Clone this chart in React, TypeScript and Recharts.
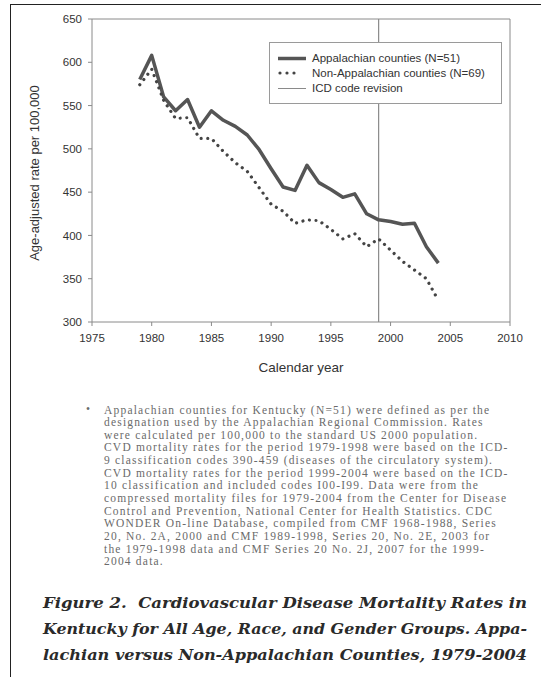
import React from 'react';
import { LineChart, Line, XAxis, YAxis, ReferenceLine, Legend } from 'recharts';

const years = [
  1979, 1980, 1981, 1982, 1983, 1984, 1985, 1986, 1987, 1988, 1989, 1990, 1991,
  1992, 1993, 1994, 1995, 1996, 1997, 1998, 1999, 2000, 2001, 2002, 2003, 2004,
];
const appalachian = [
  580, 608, 560, 544, 557, 525, 544, 533, 526, 516, 499, 477, 456,
  452, 481, 461, 453, 444, 448, 425, 418, 416, 413, 414, 387, 368,
];
const nonAppalachian = [
  574, 592, 556, 535, 536, 512, 512, 497, 484, 474, 455, 436, 428,
  414, 418, 417, 407, 396, 402, 387, 396, 383, 370, 360, 350, 325,
];
const xTicks = [1975, 1980, 1985, 1990, 1995, 2000, 2005, 2010];
const yTicks = [300, 350, 400, 450, 500, 550, 600, 650];
const icdRevisionYear = 1999;

const legendLabels = [
  'Appalachian counties (N=51)',
  'Non-Appalachian counties (N=69)',
  'ICD code revision',
];

const footnoteLines = [
  'Appalachian counties for Kentucky (N=51) were defined as per the',
  'designation used by the Appalachian Regional Commission. Rates',
  'were calculated per 100,000 to the standard US 2000 population.',
  'CVD mortality rates for the period 1979-1998 were based on the ICD-',
  '9 classification codes 390-459 (diseases of the circulatory system).',
  'CVD mortality rates for the period 1999-2004 were based on the ICD-',
  '10 classification and included codes I00-I99. Data were from the',
  'compressed mortality files for 1979-2004 from the Center for Disease',
  'Control and Prevention, National Center for Health Statistics. CDC',
  'WONDER On-line Database, compiled from CMF 1968-1988, Series',
  '20, No. 2A, 2000 and CMF 1989-1998, Series 20, No. 2E, 2003 for',
  'the 1979-1998 data and CMF Series 20 No. 2J, 2007 for the 1999-',
  '2004 data.',
];

const captionLines = [
  'Figure 2.  Cardiovascular Disease Mortality Rates in',
  'Kentucky for All Age, Race, and Gender Groups. Appa-',
  'lachian versus Non-Appalachian Counties, 1979-2004',
];

const data = years.map((year, i) => ({
  year,
  app: appalachian[i],
  nonApp: nonAppalachian[i],
}));

const sans = "'Liberation Sans', Arial, sans-serif";
const serif = "'Liberation Serif', 'Times New Roman', serif";
const axisGrey = '#8a8a8a';
const tickStyle = { fill: '#333', fontSize: 11.5, fontFamily: sans };

function LegendBox() {
  const row = { position: 'absolute' as const, left: 42, whiteSpace: 'nowrap' as const, lineHeight: '14px' };
  return (
    <div
      style={{
        position: 'relative',
        width: 233,
        height: 62,
        boxSizing: 'border-box',
        border: '1px solid #9a9a9a',
        background: '#fff',
        fontFamily: sans,
        fontSize: 11.5,
        color: '#333',
      }}
    >
      <svg width={40} height={60} style={{ position: 'absolute', left: 0, top: 0 }}>
        <line x1={8} x2={36} y1={15.5} y2={15.5} stroke="#555" strokeWidth={3.5} />
        {[10, 17, 24].map((cx) => (
          <circle key={cx} cx={cx} cy={30} r={1.6} fill="#444" />
        ))}
        <line x1={8} x2={36} y1={45.5} y2={45.5} stroke={axisGrey} strokeWidth={1} />
      </svg>
      <div style={{ ...row, top: 8 }}>{legendLabels[0]}</div>
      <div style={{ ...row, top: 23 }}>{legendLabels[1]}</div>
      <div style={{ ...row, top: 38 }}>{legendLabels[2]}</div>
    </div>
  );
}

export default function App() {
  return (
    <div
      style={{
        position: 'absolute',
        left: 0,
        top: 0,
        width: 541,
        height: 677,
        background: '#fff',
        overflow: 'hidden',
      }}
    >
      {/* page frame */}
      <div style={{ position: 'absolute', left: 10, top: 4, width: 531, height: 0, borderTop: '1.5px solid #222' }} />
      <div style={{ position: 'absolute', left: 10, top: 4, width: 0, height: 673, borderLeft: '1.5px solid #222' }} />

      <div style={{ position: 'absolute', left: 0, top: 0 }}>
        <LineChart
          width={541}
          height={390}
          data={data}
          margin={{ top: 19, right: 31, left: 0, bottom: 38 }}
        >
          <XAxis
            dataKey="year"
            type="number"
            domain={[1975, 2010]}
            ticks={xTicks}
            allowDataOverflow
            height={30}
            stroke={axisGrey}
            tickSize={4}
            tickMargin={8}
            tick={tickStyle}
          />
          <YAxis
            type="number"
            domain={[300, 650]}
            ticks={yTicks}
            width={92}
            stroke={axisGrey}
            tickSize={4}
            tickMargin={6}
            tick={tickStyle}
          />
          <ReferenceLine y={650} stroke={axisGrey} strokeWidth={1} />
          <ReferenceLine x={2010} stroke={axisGrey} strokeWidth={1} />
          <ReferenceLine x={icdRevisionYear} stroke={axisGrey} strokeWidth={1.2} />
          <Line
            type="linear"
            dataKey="app"
            stroke="#555"
            strokeWidth={3.5}
            strokeLinejoin="round"
            dot={false}
            activeDot={false}
            isAnimationActive={false}
          />
          <Line
            type="linear"
            dataKey="nonApp"
            stroke="#444"
            strokeWidth={3.2}
            strokeDasharray="0.01 6.6"
            strokeLinecap="round"
            dot={false}
            activeDot={false}
            isAnimationActive={false}
          />
          <Legend
            layout="vertical"
            align="center"
            verticalAlign="middle"
            wrapperStyle={{ position: 'absolute', left: 269, top: 42, width: 233, height: 62 }}
            content={() => <LegendBox />}
          />
        </LineChart>
      </div>

      {/* axis titles */}
      <div
        style={{
          position: 'absolute',
          left: 34,
          top: 173,
          transform: 'translate(-50%, -50%) rotate(-90deg)',
          whiteSpace: 'nowrap',
          fontFamily: sans,
          fontSize: 13,
          color: '#333',
        }}
      >
        Age-adjusted rate per 100,000
      </div>
      <div
        style={{
          position: 'absolute',
          left: 301,
          top: 367,
          transform: 'translate(-50%, -50%)',
          whiteSpace: 'nowrap',
          fontFamily: sans,
          fontSize: 13.5,
          color: '#333',
        }}
      >
        Calendar year
      </div>

      {/* footnote */}
      <div
        style={{
          position: 'absolute',
          left: 86,
          top: 403,
          fontFamily: serif,
          fontSize: 11.5,
          color: '#6a6a6a',
        }}
      >
        •
      </div>
      <div
        style={{
          position: 'absolute',
          left: 104,
          top: 403.5,
          fontFamily: serif,
          fontSize: 11.5,
          lineHeight: '12.64px',
          letterSpacing: 1.2,
          color: '#6a6a6a',
          whiteSpace: 'nowrap',
        }}
      >
        {footnoteLines.map((l) => (
          <div key={l}>{l}</div>
        ))}
      </div>

      {/* caption */}
      <svg width={541} height={677} style={{ position: 'absolute', left: 0, top: 0, pointerEvents: 'none' }}>
        {captionLines.map((l, i) => (
          <text
            key={l}
            x={43}
            y={608 + i * 26}
            textLength={484}
            lengthAdjust="spacingAndGlyphs"
            fontFamily="'DejaVu Serif', serif"
            fontStyle="italic"
            fontWeight="bold"
            fontSize={15.5}
            fill="#2a2a2a"
            style={{ whiteSpace: 'pre' }}
          >
            {l}
          </text>
        ))}
      </svg>
    </div>
  );
}
